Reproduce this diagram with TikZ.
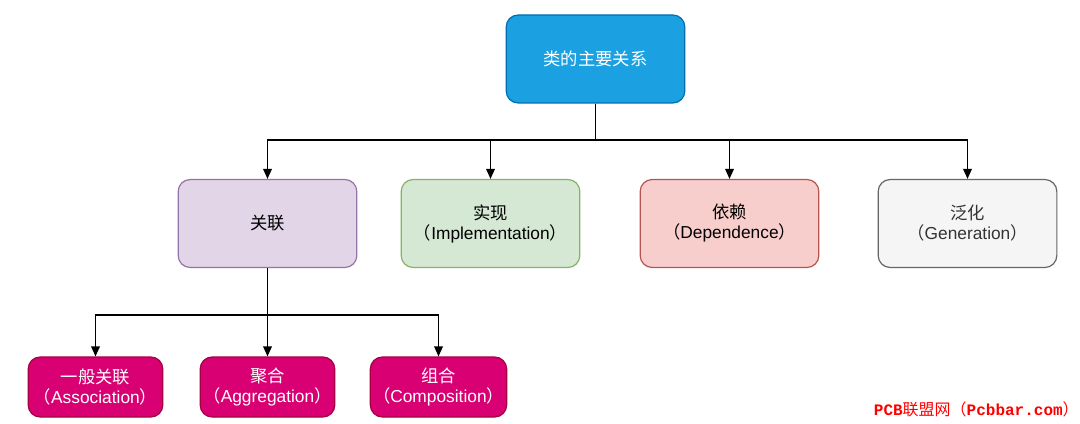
\documentclass[tikz,border=0pt]{standalone}
\usepackage{fontspec}
\setmainfont{Liberation Sans}
\newfontfamily\cjk{Noto Sans CJK SC}
\newfontfamily\monofont{Liberation Mono}
\usepackage{tikz}
\usetikzlibrary{arrows.meta}

\newcommand{\zh}[1]{{\cjk #1}}

\definecolor{topfill}{HTML}{1BA1E2}
\definecolor{topline}{HTML}{006EAF}
\definecolor{purplefill}{HTML}{E1D5E7}
\definecolor{purpleline}{HTML}{9673A6}
\definecolor{greenfill}{HTML}{D5E8D4}
\definecolor{greenline}{HTML}{82B366}
\definecolor{redfill}{HTML}{F8CECC}
\definecolor{redline}{HTML}{B85450}
\definecolor{greyfill}{HTML}{F5F5F5}
\definecolor{greyline}{HTML}{666666}
\definecolor{greytext}{HTML}{333333}
\definecolor{pinkfill}{HTML}{D80073}
\definecolor{pinkline}{HTML}{A50040}

\tikzset{
  box/.style={draw,rounded corners=9pt,line width=0.9pt,align=center,
    minimum width=134pt,minimum height=66pt,font=\fontsize{13}{15}\selectfont,inner sep=2pt},
  smallbox/.style={box,minimum width=101pt,minimum height=45pt},
  conn/.style={-{Triangle[length=7.5pt,width=6.5pt]},line width=1pt,black}
}

\begin{document}
\begin{tikzpicture}[x=0.75pt,y=-0.75pt]
        \useasboundingbox (0,0) rectangle (1080,424);

        \node[box,fill=topfill,draw=topline,text=white] at (595.5,59) (main) {\zh{类的主要关系}};

        \node[box,fill=purplefill,draw=purpleline] at (267.5,223.5) (assoc) {\zh{关联}};
        \node[box,fill=greenfill,draw=greenline] at (490.5,223.5) (impl) {\zh{实现}\\\zh{（}Implementation\zh{）}};
        \node[box,fill=redfill,draw=redline] at (729.5,223.5) (dep) {\zh{依赖}\\\zh{（}Dependence\zh{）}};
        \node[box,fill=greyfill,draw=greyline,text=greytext] at (967.5,223.5) (gen) {\zh{泛化}\\\zh{（}Generation\zh{）}};

        \node[smallbox,fill=pinkfill,draw=pinkline,text=white] at (95.5,387) (general) {\zh{一般关联}\\\zh{（}Association\zh{）}};
        \node[smallbox,fill=pinkfill,draw=pinkline,text=white] at (267.5,387) (aggr) {\zh{聚合}\\\zh{（}Aggregation\zh{）}};
        \node[smallbox,fill=pinkfill,draw=pinkline,text=white] at (438.5,387) (comp) {\zh{组合}\\\zh{（}Composition\zh{）}};

        \coordinate (bus1) at (595.5,140);
        \coordinate (bus2) at (267.5,315);

        \draw[conn] (main.south) -- (bus1) -| (assoc.north);
        \draw[conn] (main.south) -- (bus1) -| (impl.north);
        \draw[conn] (main.south) -- (bus1) -| (dep.north);
        \draw[conn] (main.south) -- (bus1) -| (gen.north);

        \draw[conn] (assoc.south) -- (bus2) -| (general.north);
        \draw[conn] (assoc.south) -- (bus2) -| (aggr.north);
        \draw[conn] (assoc.south) -- (bus2) -| (comp.north);

        \node[anchor=east,text=red,inner sep=0pt,font=\fontsize{12}{14}\selectfont] at (1079,409) (mark)
          {{\monofont\bfseries PCB}\zh{联盟网（}{\monofont\bfseries Pcbbar.com}\zh{）}};
    \end{tikzpicture}
\end{document}
